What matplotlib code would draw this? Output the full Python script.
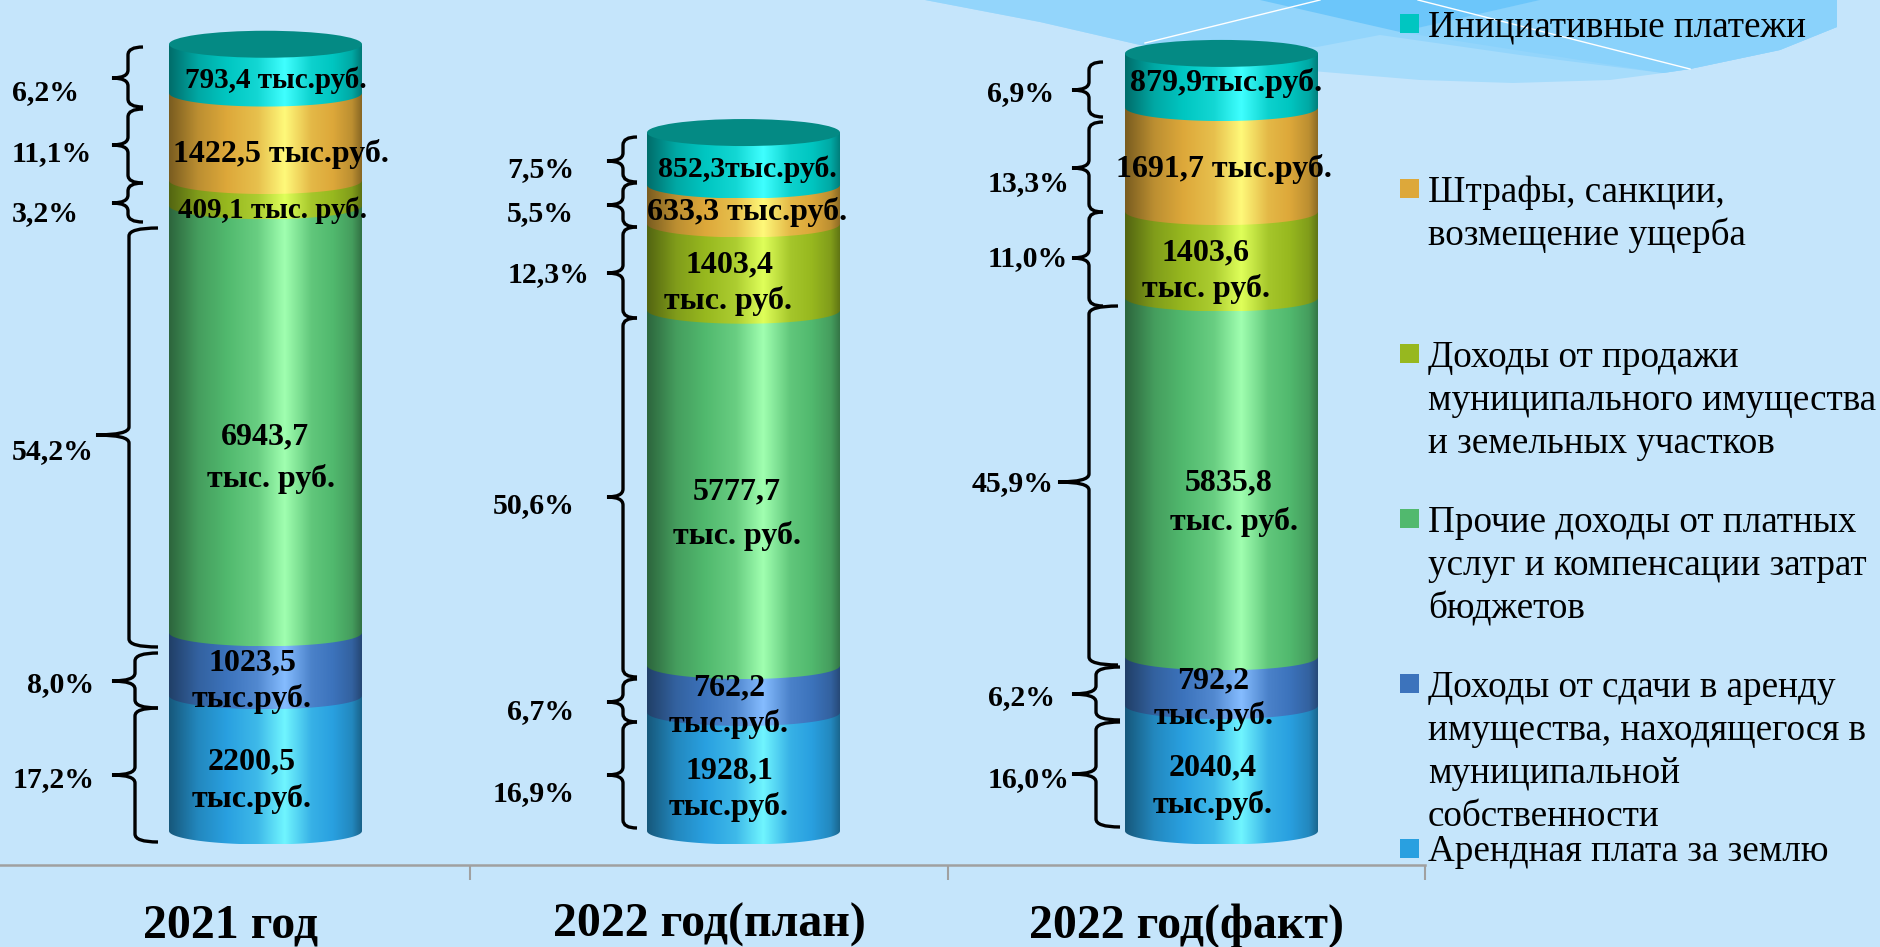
import numpy as np
from matplotlib import pyplot as plt
from matplotlib.colors import LinearSegmentedColormap, to_rgb
from matplotlib.patches import PathPatch, Polygon, Rectangle, Ellipse
from matplotlib.path import Path
from matplotlib.transforms import Affine2D

plt.rcParams['font.family'] = ['Liberation Serif', 'DejaVu Serif']

# data, bottom of the stack first
years = ['2021 год', '2022 год(план)', '2022 год(факт)']
land_rent = [2200.5, 1928.1, 2040.4]
property_rent = [1023.5, 762.2, 792.2]
other_income = [6943.7, 5777.7, 5835.8]
sales = [409.1, 1403.4, 1403.6]
fines = [1422.5, 633.3, 1691.7]
initiative = [793.4, 852.3, 879.9]

series_names = [
    'Арендная плата за землю',
    'Доходы от сдачи в аренду\nимущества, находящегося в\nмуниципальной\nсобственности',
    'Прочие доходы от платных\nуслуг и компенсации затрат\nбюджетов',
    'Доходы от продажи\nмуниципального имущества\nи земельных участков',
    'Штрафы, санкции,\nвозмещение ущерба',
    'Инициативные платежи',
]
series = [land_rent, property_rent, other_income, sales, fines, initiative]

value_labels = [
    ['2200,5', 'тыс.руб.', '1928,1', 'тыс.руб.', '2040,4', 'тыс.руб.'],
    ['1023,5', 'тыс.руб.', '762,2', 'тыс.руб.', '792,2', 'тыс.руб.'],
    ['6943,7', 'тыс. руб.', '5777,7', 'тыс. руб.', '5835,8', 'тыс. руб.'],
    ['409,1 тыс. руб.', '1403,4', 'тыс. руб.', '1403,6', 'тыс. руб.'],
    ['1422,5 тыс.руб.', '633,3 тыс.руб.', '1691,7 тыс.руб.'],
    ['793,4 тыс.руб.', '852,3тыс.руб.', '879,9тыс.руб.'],
]
percents = [
    ['17,2%', '8,0%', '54,2%', '3,2%', '11,1%', '6,2%'],
    ['16,9%', '6,7%', '50,6%', '12,3%', '5,5%', '7,5%'],
    ['16,0%', '6,2%', '45,9%', '11,0%', '13,3%', '6,9%'],
]

# look
base_colors = ['#29a0e0', '#3c73bc', '#51b96e', '#97b81f', '#dda83a', '#00c6c1']
highlights = ['#70f5ff', '#85bcff', '#a0ffb0', '#dfff5a', '#fff97a', '#40ffff']
lid_color = '#048a84'

# layout, in pixels of the 1880x947 picture
W, H = 1880, 947
base_px = 831
px_per_unit = 0.0615
axis_px = 865
cat_px = 478
first_center = 265.5
axis_right = 1425
bar_w = 193 / cat_px
ry = 13.5 / px_per_unit

value_pos = [
    [(252, 769), (252, 807), (729, 778), (729, 815), (1213, 775), (1213, 813)],
    [(252, 670), (252, 707), (729, 695), (729, 732), (1213, 688), (1214, 724)],
    [(265, 444), (271, 487), (737, 499), (737, 544), (1229, 490), (1234, 530)],
    [(273, 218), (729, 272), (728, 309), (1206, 260), (1206, 297)],
    [(281, 162), (747, 220), (1224, 177)],
    [(276, 88), (747, 177), (1226, 91)],
]
value_size = [
    [23] * 6,
    [23] * 6,
    [23] * 6,
    [21, 23, 23, 23, 23],
    [23, 23, 23],
    [21, 21.5, 23],
]
percent_pos = [
    [(13, 787), (27, 692), (12, 459), (12, 221), (12, 161), (12, 100)],
    [(493, 801), (507, 719), (493, 513), (508, 282), (507, 221), (507, 177)],
    [(988, 787), (988, 705), (972, 491), (988, 266), (988, 191), (987, 101)],
]
# top, bottom, y of the tip, tip x, spine x, end x
braces = [
    (47, 107, 78, 112, 128, 143), (109, 183, 145, 112, 128, 143),
    (183, 222, 203, 112, 128, 143), (228, 647, 435, 96, 129, 158),
    (653, 708, 681, 112, 135, 158), (708, 842, 775, 112, 135, 158),
    (137, 182, 161, 607, 623, 637), (183, 227, 205, 607, 623, 637),
    (227, 318, 273, 607, 623, 637), (318, 677, 497, 607, 623, 637),
    (679, 722, 702, 607, 623, 637), (722, 828, 775, 607, 623, 637),
    (62, 117, 90, 1072, 1089, 1103), (122, 212, 168, 1072, 1089, 1103),
    (212, 306, 258, 1072, 1089, 1103), (306, 665, 482, 1058, 1089, 1118),
    (667, 720, 694, 1072, 1096, 1120), (722, 827, 774, 1072, 1096, 1120),
]
legend_marker_top = [839, 674, 509, 344, 179, 14]
legend_baseline = [861, 697, 532, 367, 202, 36]
legend_step = 43

fig = plt.figure(figsize=(W / 100, H / 100), dpi=100, facecolor='#c5e5fb')
ax = fig.add_axes([0, (H - axis_px) / H, axis_right / W, axis_px / H])
ax.patch.set_visible(False)
px = Affine2D().scale(1, -1).translate(0, H)

# decoration in the top right corner
edge = [(1140, 45), (1300, 70), (1420, 80), (1513, 83), (1610, 80), (1663, 73), (1690, 69),
        (1780, 50), (1837, 27)]
wave = [(925, 0), (1040, 22)] + edge + [(1837, 0)]
ax.add_patch(Polygon(wave, color='#a6dcfb', lw=0, transform=px, clip_on=False, zorder=0))
upper = [(925, 0), (1040, 22), (1140, 45), (1317, 47), (1380, 35), (1520, 55), (1663, 73),
         (1690, 69), (1780, 50), (1837, 27), (1837, 0)]
ax.add_patch(Polygon(upper, color='#93d5fb', lw=0, transform=px, clip_on=False, zorder=0))
right_part = [(1400, 32), (1663, 73), (1690, 69), (1780, 50), (1837, 27), (1837, 0), (1540, 0)]
ax.add_patch(Polygon(right_part, color='#8ad2fb', lw=0, transform=px, clip_on=False, zorder=0))
dark = [(1260, 0), (1400, 32), (1540, 0)]
ax.add_patch(Polygon(dark, color='#6cc6fa', lw=0, transform=px, clip_on=False, zorder=0))
ax.plot([1145, 1320], [43, 0], color='white', lw=1, transform=px, clip_on=False, zorder=1)
ax.plot([1418, 1690], [0, 69], color='white', lw=1, transform=px, clip_on=False, zorder=1)


def shade(base, hi):
    c = np.array(to_rgb(base))
    h = np.array(to_rgb(hi))
    stops = [(0, c * 0.55), (0.15, c * 0.85), (0.3, c), (0.46, c + 0.3 * (h - c)), (0.6, h),
             (0.74, c + 0.2 * (h - c)), (0.85, c), (0.95, c * 0.85), (1, c * 0.62)]
    return LinearSegmentedColormap.from_list('cyl', [(p, tuple(v)) for p, v in stops])


grad = np.linspace(0, 1, 256)[None, :]
centers = np.arange(len(years))
t = np.linspace(np.pi, 2 * np.pi, 60)

bottom = np.zeros(len(years))
for j, vals in enumerate(series):
    cmap = shade(base_colors[j], highlights[j])
    for i, x in enumerate(centers):
        y0, y1 = bottom[i], bottom[i] + vals[i]
        xs = x + bar_w / 2 * np.cos(t)
        ys = y0 + ry * np.sin(t)
        verts = [(x - bar_w / 2, y1)] + list(zip(xs, ys)) + [(x + bar_w / 2, y1)]
        clip = Polygon(verts, transform=ax.transData, fill=False, lw=0)
        ax.add_patch(clip)
        im = ax.imshow(grad, cmap=cmap, aspect='auto', zorder=2 + j * 0.1,
                       extent=[x - bar_w / 2, x + bar_w / 2, y0 - ry, y1])
        im.set_clip_path(clip)
    bottom = bottom + np.array(vals)

for i, x in enumerate(centers):
    ax.add_patch(Ellipse((x, bottom[i]), bar_w, 2 * ry, color=lid_color, lw=0, zorder=3))

ax.set_xlim(-first_center / cat_px, (axis_right - first_center) / cat_px)
ax.set_ylim((base_px - axis_px) / px_per_unit, base_px / px_per_unit)

# axis: labels sit in the middle between the tick marks
tick_px = np.array([470, 948, 1425])
label_px = np.array([231, 709, 1186.5])
ax.set_xticks((label_px - first_center) / cat_px, years)
ax.set_xticks((tick_px - first_center) / cat_px, minor=True)
ax.tick_params(axis='x', which='major', length=0, pad=27.5, labelsize=34.5)
ax.tick_params(axis='x', which='minor', length=11, width=1.5, color='#a0a0a0')
for lab in ax.get_xticklabels():
    lab.set_fontweight('bold')
ax.set_yticks([])
for name in ['top', 'left', 'right']:
    ax.spines[name].set_visible(False)
ax.spines['bottom'].set_color('#a0a0a0')
ax.spines['bottom'].set_linewidth(1.8)

# value labels and percents
for labels, pos, sizes in zip(value_labels, value_pos, value_size):
    for s, (x, y), size in zip(labels, pos, sizes):
        ax.text(x, y, s, transform=px, ha='center', va='baseline', fontsize=size,
                fontweight='bold', color='black', zorder=6, clip_on=False)
for labels, pos in zip(percents, percent_pos):
    for s, (x, y) in zip(labels, pos):
        ax.text(x, y, s, transform=px, ha='left', va='baseline', fontsize=21.5,
                fontweight='bold', color='black', zorder=6, clip_on=False)


def brace(top, bot, tip_y, tip_x, spine, end):
    r = 8
    verts = [(end, top), (spine, top), (spine, top + r), (spine, tip_y - r), (spine, tip_y),
             (tip_x, tip_y), (spine, tip_y), (spine, tip_y + r), (spine, bot - r), (spine, bot),
             (end, bot)]
    codes = [Path.MOVETO, Path.CURVE3, Path.CURVE3, Path.LINETO, Path.CURVE3, Path.CURVE3,
             Path.CURVE3, Path.CURVE3, Path.LINETO, Path.CURVE3, Path.CURVE3]
    ax.add_patch(PathPatch(Path(verts, codes), fill=False, ec='black', lw=2.4, transform=px,
                           clip_on=False, zorder=5))


for b in braces:
    brace(*b)

# legend, spaced unevenly like the original
for j, name in enumerate(series_names):
    ax.add_patch(Rectangle((1400, legend_marker_top[j]), 19, 19, color=base_colors[j], lw=0,
                           transform=px, clip_on=False, zorder=4))
    for k, line in enumerate(name.split('\n')):
        ax.text(1428, legend_baseline[j] + k * legend_step, line, transform=px, ha='left',
                va='baseline', fontsize=26.7, color='black', zorder=6, clip_on=False)

fig.savefig('out.png', dpi=100, facecolor=fig.get_facecolor())
